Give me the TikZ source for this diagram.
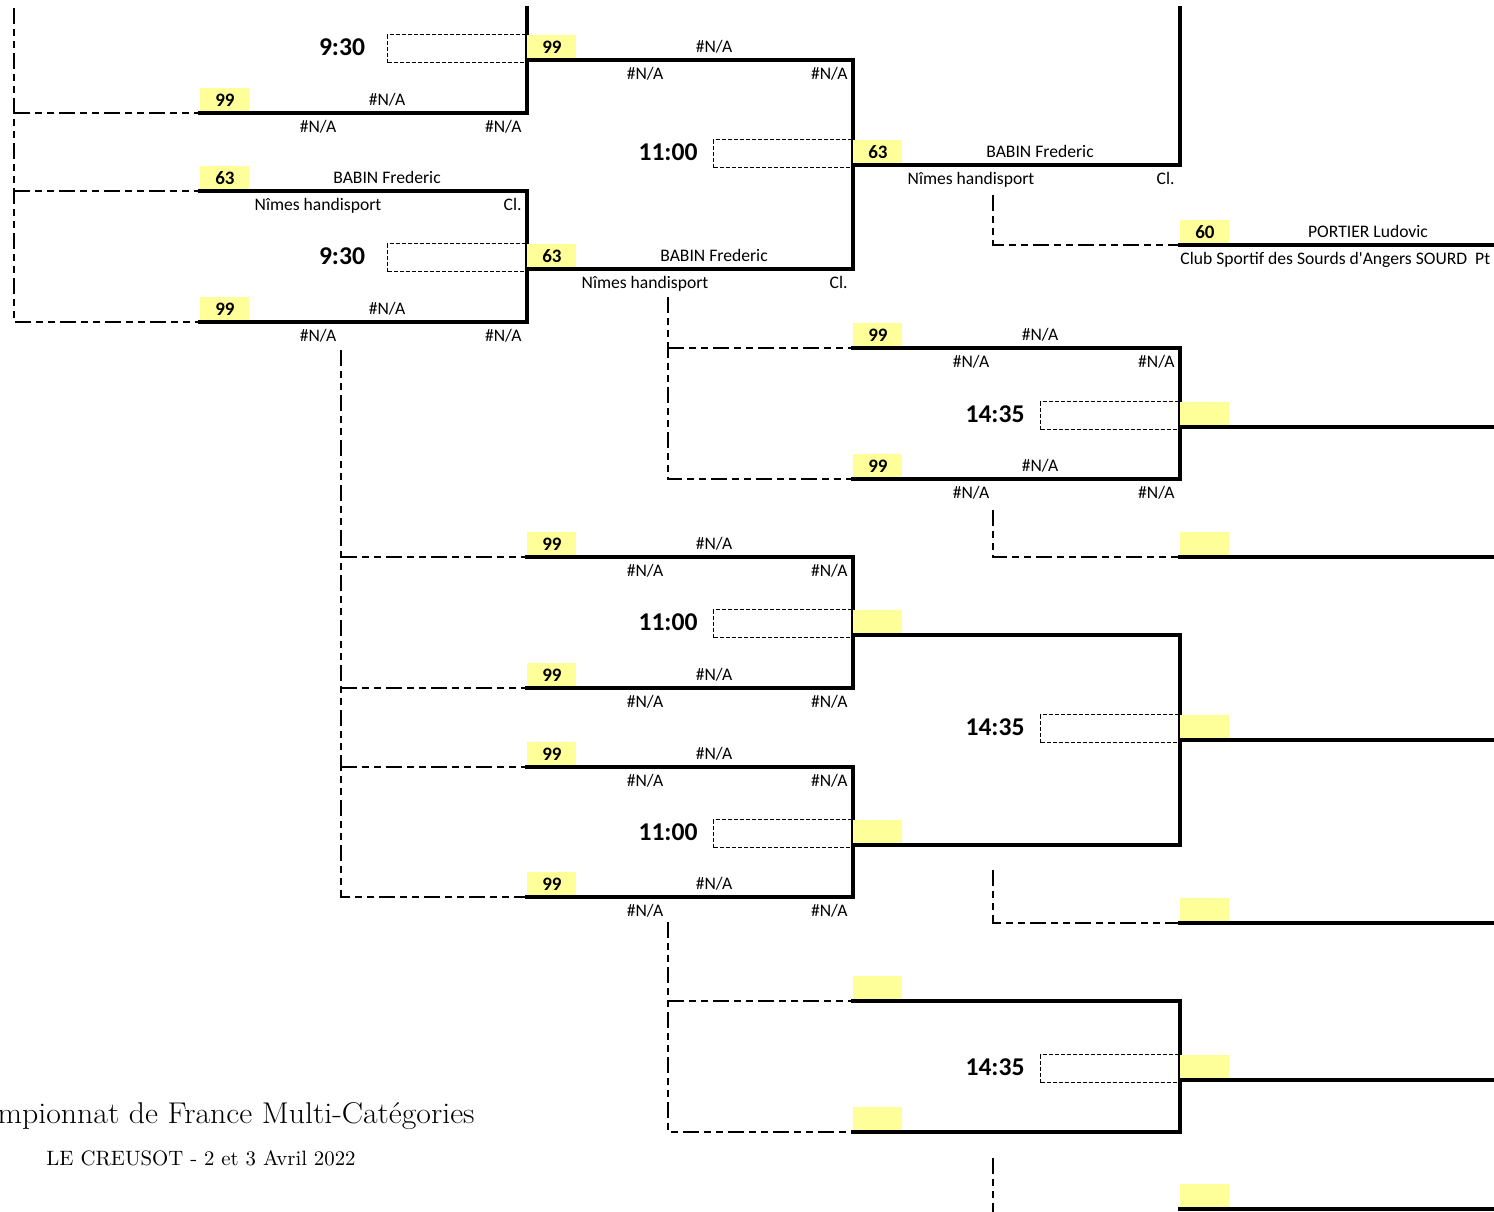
\documentclass[tikz,border=0pt]{standalone}
\usepackage{fontspec}
\usetikzlibrary{calc}
\newfontfamily\cbr{Carlito}
\definecolor{yel}{RGB}{255,255,153}
\tikzset{
  x=0.5pt, y=-0.5pt,
  txt/.style={font={\cbr\fontsize{8.8pt}{10pt}\selectfont}, inner sep=0pt},
  seedbox/.style={fill=yel, minimum width=24.5pt, minimum height=12.5pt, inner sep=0pt,
                  font={\cbr\bfseries\fontsize{9.5pt}{11pt}\selectfont}},
  timetxt/.style={font={\cbr\bfseries\fontsize{12.8pt}{14pt}\selectfont}, inner sep=0pt},
  tboxst/.style={draw, dashed, dash pattern=on 2pt off 1pt, line width=0.5pt,
                 minimum width=69.5pt, minimum height=14pt, inner sep=0pt},
  thickline/.style={line width=1.7pt, line cap=rect},
  dd/.style={line width=0.9pt, dash pattern=on 8pt off 2.5pt on 3.5pt off 2.5pt on 3.5pt off 2.5pt},
  titlest/.style={font={\fontsize{15pt}{17pt}\selectfont}, inner sep=0pt},
  subst/.style={font={\fontsize{10.4pt}{12pt}\selectfont}, inner sep=0pt},
}
% line with texts: name, x1, x2, y, seed, above, below-left, below-right
\newcommand\bkline[8]{%
  \coordinate (#1-a) at (#2,#4);
  \coordinate (#1-b) at (#3,#4);
  \node[seedbox, anchor=south west] (#1-s) at (#1-a) {#5};
  \draw[thickline] (#1-a) -- (#1-b);
  \node[txt, anchor=mid] (#1-n) at ($(#1-a)+(187,-12)$) {#6};
  \node[txt, anchor=mid] (#1-c) at ($(#1-a)+(118,15)$) {#7};
  \node[txt, anchor=mid east] (#1-r) at ($(#1-b)+(-5,15)$) {#8};
}
% line without texts: name, x1, x2, y
\newcommand\bkempty[4]{%
  \coordinate (#1-a) at (#2,#4);
  \coordinate (#1-b) at (#3,#4);
  \node[seedbox, anchor=south west] (#1-s) at (#1-a) {};
  \draw[thickline] (#1-a) -- (#1-b);
}
% dashed box and time: name, output coordinate, time
\newcommand\bktime[3]{%
  \node[tboxst, anchor=north east] (#1-box) at ($(#2)+(0,-26)$) {};
  \node[timetxt, anchor=mid] (#1-t) at ($(#1-box.west)+(-45,3)$) {#3};
}
\begin{document}
\begin{tikzpicture}
\useasboundingbox (0,0) rectangle (1494,1211);

% ---------- main bracket ----------
\bkline{R1b}{200}{527}{113}{99}{\#N/A}{\#N/A}{\#N/A}
\bkline{R1c}{200}{527}{191}{63}{BABIN Frederic}{Nîmes handisport}{Cl.\hspace{2.5pt}}
\bkline{R1d}{200}{527}{322}{99}{\#N/A}{\#N/A}{\#N/A}
\coordinate (V1t) at (527,8);
\draw[thickline] (V1t) -- (R1b-b);
\draw[thickline] (R1c-b) -- (R1d-b);

\bkline{R2a}{527}{853}{60}{99}{\#N/A}{\#N/A}{\#N/A}
\bkline{R2b}{527}{853}{269}{63}{BABIN Frederic}{Nîmes handisport}{Cl.\hspace{2.5pt}}
\draw[thickline] (R2a-b) -- (R2b-b);
\bktime{T1}{R2a-a}{9:30}
\bktime{T2}{R2b-a}{9:30}

\bkline{R3a}{853}{1180}{165}{63}{BABIN Frederic}{Nîmes handisport}{Cl.\hspace{2.5pt}}
\bktime{T3}{R3a-a}{11:00}
\coordinate (V3t) at (1180,8);
\draw[thickline] (V3t) -- (R3a-b);

% PORTIER line
\coordinate (R4a-a) at (1180,245);
\coordinate (R4a-b) at (1500,245);
\node[seedbox, anchor=south west] (R4a-s) at (R4a-a) {60};
\draw[thickline] (R4a-a) -- (R4a-b);
\node[txt, anchor=mid] (R4a-n) at ($(R4a-a)+(188,-12)$) {PORTIER Ludovic};
\node[txt, anchor=mid west] (R4a-c) at ($(R4a-a)+(0,15)$) {Club Sportif des Sourds d'Angers SOURD~~Pt};

% ---------- lower part ----------
\bkline{C1a}{853}{1180}{348}{99}{\#N/A}{\#N/A}{\#N/A}
\bkline{C1b}{853}{1180}{479}{99}{\#N/A}{\#N/A}{\#N/A}
\draw[thickline] (C1a-b) -- (C1b-b);
\bkempty{C1o}{1180}{1500}{427}
\bktime{T4}{C1o-a}{14:35}
\bkempty{C2}{1180}{1500}{557}

\bkline{D1a}{527}{853}{557}{99}{\#N/A}{\#N/A}{\#N/A}
\bkline{D1b}{527}{853}{688}{99}{\#N/A}{\#N/A}{\#N/A}
\draw[thickline] (D1a-b) -- (D1b-b);
\bkempty{D1o}{853}{1180}{635}
\bktime{T5}{D1o-a}{11:00}

\bkline{D2a}{527}{853}{767}{99}{\#N/A}{\#N/A}{\#N/A}
\bkline{D2b}{527}{853}{897}{99}{\#N/A}{\#N/A}{\#N/A}
\draw[thickline] (D2a-b) -- (D2b-b);
\bkempty{D2o}{853}{1180}{845}
\bktime{T6}{D2o-a}{11:00}

\draw[thickline] (D1o-b) -- (D2o-b);
\bkempty{D3o}{1180}{1500}{740}
\bktime{T7}{D3o-a}{14:35}

\bkempty{E}{1180}{1500}{923}

\bkempty{F1a}{853}{1180}{1001}
\bkempty{F1b}{853}{1180}{1132}
\draw[thickline] (F1a-b) -- (F1b-b);
\bkempty{F1o}{1180}{1500}{1080}
\bktime{T8}{F1o-a}{14:35}

\bkempty{G}{1180}{1500}{1209}

% ---------- dash-dot connectors ----------
\coordinate (K1t) at (14,8);
\draw[dd] (K1t) -- (K1t |- R1d-a) -- (R1d-a);
\draw[dd] (K1t |- R1b-a) -- (R1b-a);
\draw[dd] (K1t |- R1c-a) -- (R1c-a);

\coordinate (K2t) at (341,350);
\draw[dd] (K2t) -- (K2t |- D2b-a) -- (D2b-a);
\draw[dd] (K2t |- D1a-a) -- (D1a-a);
\draw[dd] (K2t |- D1b-a) -- (D1b-a);
\draw[dd] (K2t |- D2a-a) -- (D2a-a);

\coordinate (K3t) at (668,297);
\draw[dd] (K3t) -- (K3t |- C1b-a) -- (C1b-a);
\draw[dd] (K3t |- C1a-a) -- (C1a-a);

\coordinate (K4t) at (993,195);
\draw[dd] (K4t) -- (K4t |- R4a-a) -- (R4a-a);

\coordinate (K5t) at (993,510);
\draw[dd] (K5t) -- (K5t |- C2-a) -- (C2-a);

\coordinate (K6t) at (668,922);
\draw[dd] (K6t) -- (K6t |- F1b-a) -- (F1b-a);
\draw[dd] (K6t |- F1a-a) -- (F1a-a);

\coordinate (K7t) at (993,870);
\draw[dd] (K7t) -- (K7t |- E-a) -- (E-a);

\coordinate (K8t) at (993,1158);
\coordinate (K8b) at (993,1215);
\draw[dd] (K8t) -- (K8b);

% ---------- title ----------
\node[titlest, anchor=base east] (title) at (475,1123) {\scalebox{1.06}[1]{Championnat de France Multi-Catégories}};
\node[subst, anchor=base] (sub) at (201,1165) {LE CREUSOT - 2 et 3 Avril 2022};
\end{tikzpicture}
\end{document}
